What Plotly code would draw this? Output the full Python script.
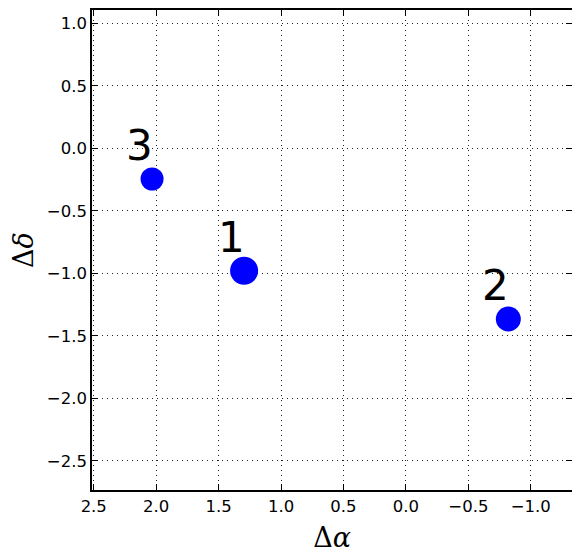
import plotly.graph_objects as go

# data
d_alpha = [1.296, -0.82, 2.033]
d_delta = [-0.98, -1.366, -0.246]
labels = ["1", "2", "3"]
point_size = [28, 25, 23]

x_ticks = [2.5, 2.0, 1.5, 1.0, 0.5, 0.0, -0.5, -1.0]
y_ticks = [1.0, 0.5, 0.0, -0.5, -1.0, -1.5, -2.0, -2.5]

fig = go.Figure()
fig.add_trace(go.Scatter(
    x=d_alpha, y=d_delta, mode="markers",
    marker=dict(color="#0000ff", size=point_size, opacity=1, line=dict(width=0)),
    showlegend=False,
))

for xa, ya, lab in zip(d_alpha, d_delta, labels):
    fig.add_annotation(
        x=xa, y=ya, text=lab, showarrow=False,
        xanchor="right", yanchor="bottom", yshift=7, xshift=3,
        font=dict(family="DejaVu Sans", size=42, color="black"),
    )

axis_common = dict(
    showline=True, linecolor="black", linewidth=1.5, mirror="ticks",
    ticks="inside", ticklen=6, tickcolor="black", tickwidth=1,
    showgrid=True, gridcolor="#222222", gridwidth=1, griddash="1px,4px",
    zeroline=False, tickformat=".1f", automargin=False,
    tickfont=dict(family="DejaVu Sans", size=16.5, color="black"),
)

fig.update_xaxes(
    range=[2.514, -1.33], tickvals=x_ticks,
    title=dict(text="Δ<i>α</i>", font=dict(family="DejaVu Serif", size=27, color="black"), standoff=14),
    **axis_common,
)
fig.update_yaxes(
    range=[-2.734, 1.106], tickvals=y_ticks,
    title=dict(text="Δ<i>δ</i>", font=dict(family="DejaVu Serif", size=27, color="black"), standoff=18),
    **axis_common,
)

# page body has an 8px margin, so the figure is sized to fit the window
fig.update_layout(
    width=572, height=550,
    margin=dict(l=84, r=8, t=2, b=68),
    plot_bgcolor="white", paper_bgcolor="white",
)

fig.write_html("out.html")
